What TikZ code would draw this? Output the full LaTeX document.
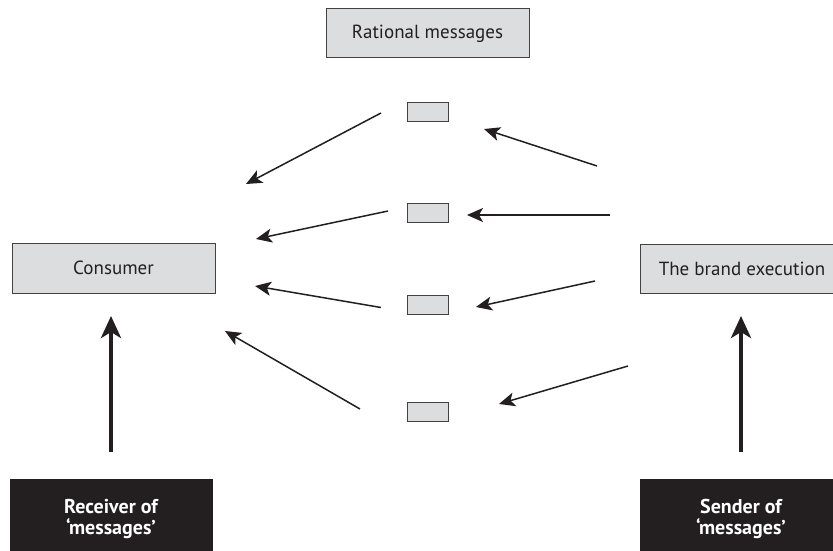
\documentclass[tikz,border=0pt]{standalone}
\usepackage{fontspec}
\setmainfont{PT Sans}
\usetikzlibrary{arrows.meta}
\definecolor{boxgray}{HTML}{DCDDDF}
\definecolor{ink}{HTML}{231F20}
\tikzset{
  x=1pt,y=-1pt,
  lbl/.style={font=\fontsize{19}{22}\selectfont,text=ink},
  graybox/.style={draw=ink!85,line width=1pt,fill=boxgray,inner sep=0pt,lbl},
  smallbox/.style={draw=ink!85,line width=1pt,fill=boxgray,minimum width=41pt,minimum height=19pt,inner sep=0pt},
  blackbox/.style={fill=ink,inner sep=0pt},
  whitelbl/.style={text=white,font=\bfseries\fontsize{20}{21}\selectfont,align=center},
  thin/.style={draw=ink,line width=1.5pt,-{Stealth[length=16pt,width=14pt,inset=4pt]}},
  thick/.style={draw=ink,line width=4pt,-{Stealth[length=22pt,width=20pt,inset=6pt]}}
}
\begin{document}
\begin{tikzpicture}
\useasboundingbox (0,0) rectangle (833,551);
% gray boxes
\node[graybox,minimum width=203pt,minimum height=49pt] (rat) at (427.5,33.5) {Rational messages};
\node[graybox,minimum width=203pt,minimum height=50pt] (con) at (113.5,268) {Consumer};
\node[graybox,minimum width=203pt,minimum height=49pt,anchor=west] (bra) at (640,268.5) {};
\node[lbl] (bratxt) at (742,268.5) {The brand execution};
% small boxes
\node[smallbox] (s1) at (427.5,111.5) {};
\node[smallbox] (s2) at (427.5,212.5) {};
\node[smallbox] (s3) at (427.5,304.5) {};
\node[smallbox] (s4) at (427.5,411.5) {};
% black boxes
\node[blackbox,minimum width=203pt,minimum height=80pt,anchor=north] (rec) at (111,479) {};
\node[whitelbl] (rectxt) at (111,519) {Receiver of\\‘messages’};
\node[blackbox,minimum width=203pt,minimum height=80pt,anchor=north west] (sen) at (640,479) {};
\node[whitelbl] (sentxt) at (741,519) {Sender of\\‘messages’};
% arrow endpoints
\coordinate (a1s) at (381,113); \coordinate (a1e) at (246,184);
\coordinate (a2s) at (597,166); \coordinate (a2e) at (484,129);
\coordinate (a3s) at (388,211); \coordinate (a3e) at (256,239);
\coordinate (a4s) at (610,215); \coordinate (a4e) at (467,215);
\coordinate (a5s) at (381,307.5); \coordinate (a5e) at (255,286);
\coordinate (a6s) at (595,281); \coordinate (a6e) at (476,307);
\coordinate (a7s) at (360,409); \coordinate (a7e) at (225,331);
\coordinate (a8s) at (628,366); \coordinate (a8e) at (499,404);
\coordinate (t1s) at (111,452); \coordinate (t1e) at (111,316);
\coordinate (t2s) at (741,452); \coordinate (t2e) at (741,316);
\foreach \i in {1,...,8} {\draw[thin] (a\i s) -- (a\i e);}
\draw[thick] (t1s) -- (t1e);
\draw[thick] (t2s) -- (t2e);
\end{tikzpicture}
\end{document}
